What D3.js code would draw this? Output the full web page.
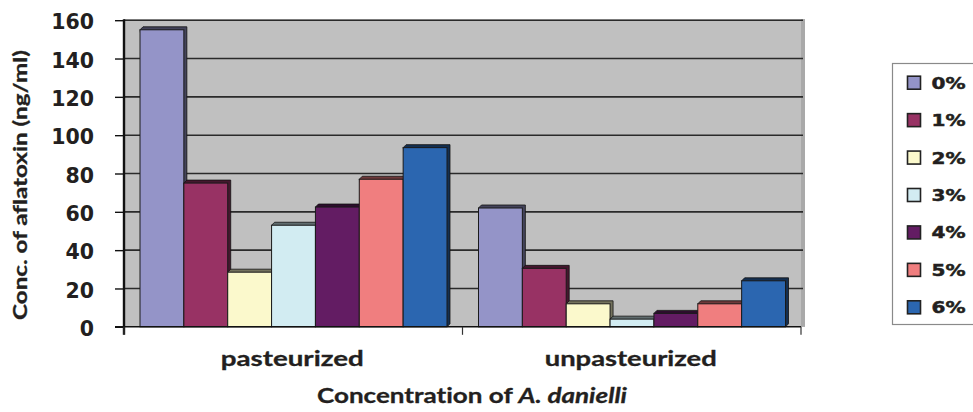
<!DOCTYPE html>
<html>
<head>
<meta charset="utf-8">
<script src="https://cdn.jsdelivr.net/npm/d3@7"></script>
<style>
  html, body { margin: 0; padding: 0; background: #fff; }
  svg { display: block; }
  text { font-variant-ligatures: none; }
</style>
</head>
<body>
<svg id="chart" width="973" height="412"></svg>
<script>
// Aflatoxin concentration by A. danielli dose, in pasteurized and unpasteurized samples
const categories = ["pasteurized", "unpasteurized"];
const seriesNames = ["0%", "1%", "2%", "3%", "4%", "5%", "6%"];
const pasteurized = [155, 75, 28.5, 53, 62.5, 77, 93.5];
const unpasteurized = [62, 30.5, 12, 4, 7, 12, 24];
const yTicks = [0, 20, 40, 60, 80, 100, 120, 140, 160];
const seriesColors = ["#9494c8", "#983264", "#fbf9cc", "#d2ecf2", "#631c63", "#f07e7f", "#2b66b0"];

const valuesByCategory = { pasteurized: pasteurized, unpasteurized: unpasteurized };

const svg = d3.select("#chart");

const plotLeft = 124, plotRight = 801, plotTop = 20.2, plotBottom = 326.8;
const depth = 3;

const y = d3.scaleLinear().domain([0, 160]).range([plotBottom, plotTop]);
const x0 = d3.scaleBand().domain(categories).range([plotLeft, plotRight]).padding(0);
const x1 = d3.scaleBand().domain(seriesNames)
  .range([16, x0.bandwidth() - 15.5]).padding(0);
const color = d3.scaleOrdinal().domain(seriesNames).range(seriesColors);

// back wall of the plot area
svg.append("rect")
  .attr("x", plotLeft).attr("y", plotTop - 1)
  .attr("width", plotRight + 4 - plotLeft).attr("height", plotBottom - plotTop + 1)
  .attr("fill", "#c0c0c0");
svg.append("rect")
  .attr("x", plotRight).attr("y", plotTop - 1)
  .attr("width", 4).attr("height", plotBottom - plotTop + 1)
  .attr("fill", "#a9a9a9");

// gridlines
svg.append("g").selectAll("line")
  .data(yTicks.filter(d => d > 0))
  .join("line")
  .attr("x1", plotLeft).attr("x2", plotRight + 2)
  .attr("y1", d => y(d)).attr("y2", d => y(d))
  .attr("stroke", "#2a2a2a").attr("stroke-width", 1.6);

// bars with a shallow 3-D top and side face
const groups = svg.append("g").selectAll("g")
  .data(categories)
  .join("g")
  .attr("transform", c => `translate(${x0(c)},0)`);

const bars = groups.selectAll("g")
  .data(c => seriesNames.map((s, i) => ({ series: s, value: valuesByCategory[c][i] })))
  .join("g");

bars.append("path")
  .attr("d", d => {
    const xa = x1(d.series), xb = xa + x1.bandwidth(), yt = y(d.value), yb = y(0);
    return `M${xa},${yt}L${xa + depth},${yt - depth}L${xb + depth},${yt - depth}` +
           `L${xb + depth},${yb - depth}L${xb},${yb}Z`;
  })
  .attr("fill", d => d3.color(color(d.series)).darker(2.2))
  .attr("stroke", "#111").attr("stroke-width", 0.8);

bars.append("rect")
  .attr("x", d => x1(d.series))
  .attr("y", d => y(d.value))
  .attr("width", x1.bandwidth())
  .attr("height", d => y(0) - y(d.value))
  .attr("fill", d => color(d.series))
  .attr("stroke", "#1a1a1a").attr("stroke-width", 1);

// value axis
svg.append("line")
  .attr("x1", plotLeft).attr("x2", plotLeft)
  .attr("y1", plotTop - 1).attr("y2", plotBottom + 8)
  .attr("stroke", "#111").attr("stroke-width", 2.4);

const yAxis = d3.axisLeft(y).tickValues(yTicks).tickSize(9).tickPadding(21);
const gy = svg.append("g").attr("transform", `translate(${plotLeft},0)`).call(yAxis);
gy.select(".domain").remove();
gy.selectAll(".tick line").attr("stroke", "#111").attr("stroke-width", 1.4);
gy.selectAll(".tick text")
  .attr("font-family", "DejaVu Sans, Verdana, sans-serif")
  .attr("font-weight", "bold")
  .attr("font-size", 20.5)
  .attr("fill", "#231f20")
  .attr("dy", "0.42em");

// category axis
svg.append("line")
  .attr("x1", plotLeft - 9).attr("x2", plotRight)
  .attr("y1", plotBottom).attr("y2", plotBottom)
  .attr("stroke", "#111").attr("stroke-width", 1.6);
svg.append("g").selectAll("line")
  .data([...categories.map(c => x0(c)), plotRight])
  .join("line")
  .attr("x1", d => d).attr("x2", d => d)
  .attr("y1", plotBottom).attr("y2", plotBottom + 8)
  .attr("stroke", "#333").attr("stroke-width", 1.2);

const labelWidths = { pasteurized: 143, unpasteurized: 172 };
svg.append("g").selectAll("text")
  .data(categories)
  .join("text")
  .attr("x", c => x0(c) + x0.bandwidth() / 2 - 1)
  .attr("y", 366)
  .attr("text-anchor", "middle")
  .attr("font-family", "Lato, 'Open Sans', sans-serif")
  .attr("font-weight", "bold")
  .attr("font-size", 20.5)
  .attr("fill", "#231f20")
  .attr("stroke", "#231f20").attr("stroke-width", 0.3)
  .attr("textLength", c => labelWidths[c])
  .attr("lengthAdjust", "spacingAndGlyphs")
  .text(c => c);

// axis titles
const xTitle = svg.append("text")
  .attr("x", 472).attr("y", 403)
  .attr("text-anchor", "middle")
  .attr("font-family", "Lato, 'Open Sans', sans-serif")
  .attr("font-weight", "bold")
  .attr("font-size", 21)
  .attr("fill", "#231f20")
  .attr("stroke", "#231f20").attr("stroke-width", 0.3)
  .attr("textLength", 310)
  .attr("lengthAdjust", "spacingAndGlyphs");
xTitle.append("tspan").text("Concentration of ");
xTitle.append("tspan").attr("font-style", "italic").text("A. danielli");

svg.append("text")
  .attr("transform", "translate(27,185) rotate(-90)")
  .attr("text-anchor", "middle")
  .attr("font-family", "Lato, 'Open Sans', sans-serif")
  .attr("font-weight", "bold")
  .attr("font-size", 19)
  .attr("fill", "#231f20")
  .attr("stroke", "#231f20").attr("stroke-width", 0.3)
  .attr("textLength", 270)
  .attr("lengthAdjust", "spacingAndGlyphs")
  .text("Conc. of aflatoxin (ng/ml)");

// legend
const legend = svg.append("g");
legend.append("rect")
  .attr("x", 892.5).attr("y", 63.5)
  .attr("width", 90).attr("height", 261)
  .attr("fill", "#fff").attr("stroke", "#8a8a8a").attr("stroke-width", 1.2);

const ly = d3.scalePoint().domain(seriesNames).range([82.7, 307.3]);
const items = legend.selectAll("g.item")
  .data(seriesNames)
  .join("g").attr("class", "item")
  .attr("transform", s => `translate(0,${ly(s)})`);
items.append("rect")
  .attr("x", 907.5).attr("y", -6.5)
  .attr("width", 13).attr("height", 13)
  .attr("fill", s => color(s))
  .attr("stroke", "#222").attr("stroke-width", 1.6);
items.append("text")
  .attr("x", 931.5).attr("y", 6)
  .attr("font-family", "DejaVu Sans, Verdana, sans-serif")
  .attr("font-weight", "bold")
  .attr("font-size", 16.5)
  .attr("fill", "#231f20")
  .attr("stroke", "#231f20").attr("stroke-width", 0.5)
  .attr("textLength", 34)
  .attr("lengthAdjust", "spacingAndGlyphs")
  .text(s => s);
</script>
</body>
</html>
